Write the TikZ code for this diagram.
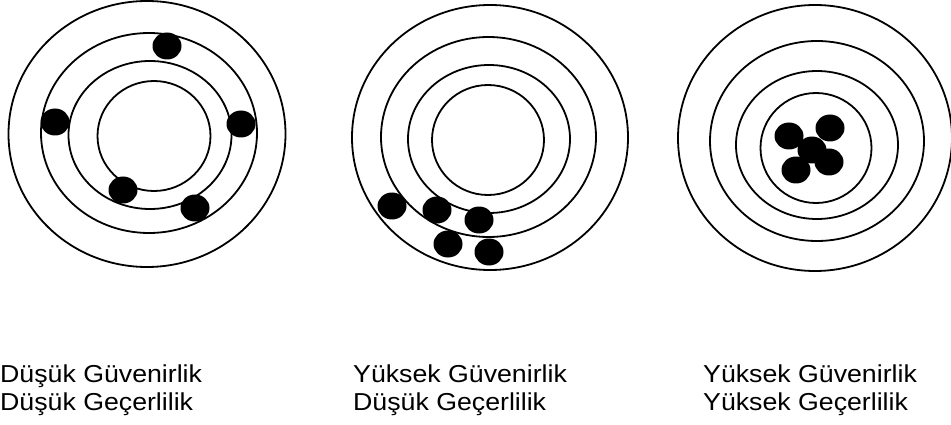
\documentclass[tikz,border=0pt]{standalone}
\usepackage{fontspec}
\setmainfont{Liberation Sans}
\newfontfamily\capfont[FakeStretch=1.09]{Liberation Sans}
\begin{document}
\begin{tikzpicture}[x=1pt,y=-1pt,
  ring/.style={draw=black,line width=1.8pt},
  hit/.style={fill=black},
  caption/.style={anchor=base west,inner sep=0pt,font=\capfont\fontsize{24.5}{28}\selectfont}]
\useasboundingbox (0,0) rectangle (951,425);

% left target: scattered hits
\draw[ring] (147,134) ellipse [x radius=138.5,y radius=133];
\draw[ring] (149,133) ellipse [x radius=108,y radius=100];
\draw[ring] (150,135) ellipse [x radius=81.5,y radius=74];
\draw[ring] (154,136) ellipse [x radius=56.5,y radius=55];
\foreach \p in {(167,46),(55,122),(241,124),(123,190),(195,208)}
  \fill[hit] \p ellipse [x radius=14.5,y radius=13.5];

% middle target: grouped hits away from the centre
\draw[ring] (490,137.5) ellipse [x radius=138,y radius=132.5];
\draw[ring] (488.5,137) ellipse [x radius=107.5,y radius=100];
\draw[ring] (489,139) ellipse [x radius=81,y radius=74];
\draw[ring] (488,140) ellipse [x radius=56,y radius=55];
\foreach \p in {(392,206),(437,210),(479,220),(448,244),(489,252)}
  \fill[hit] \p ellipse [x radius=14.5,y radius=13.5];

% right target: grouped hits at the centre
\draw[ring] (815,138) ellipse [x radius=137,y radius=133];
\draw[ring] (817,141) ellipse [x radius=107,y radius=100];
\draw[ring] (817,145) ellipse [x radius=81,y radius=74];
\draw[ring] (816,148) ellipse [x radius=55.5,y radius=55];
\foreach \p in {(789,136),(830,128),(812,150),(829,162),(796,170)}
  \fill[hit] \p ellipse [x radius=14.5,y radius=13.5];

% captions
\node[caption] (l1a) at (0,382) {Düşük Güvenirlik};
\node[caption] (l1b) at (0,410) {Düşük Geçerlilik};
\node[caption] (l2a) at (353,382) {Yüksek Güvenirlik};
\node[caption] (l2b) at (353,410) {Düşük Geçerlilik};
\node[caption] (l3a) at (703,382) {Yüksek Güvenirlik};
\node[caption] (l3b) at (703,410) {Yüksek Geçerlilik};
\end{tikzpicture}
\end{document}
